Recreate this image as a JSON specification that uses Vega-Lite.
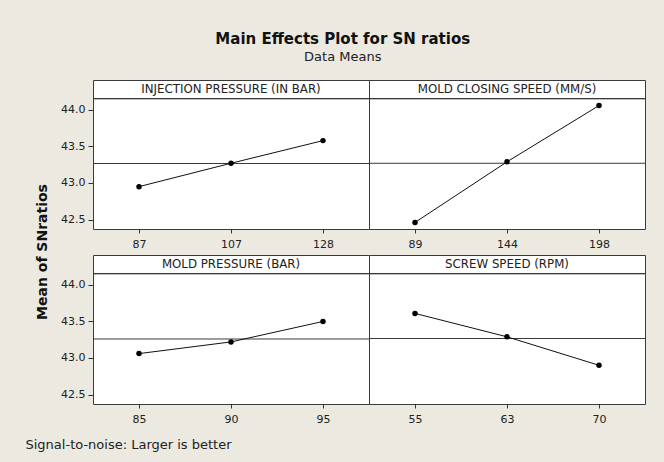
{
  "$schema": "https://vega.github.io/schema/vega-lite/v6.json",
  "background": "#ECE9E0",
  "padding": {"left": 25, "top": 31, "right": 26, "bottom": 12},
  "title": {
    "text": "Main Effects Plot for SN ratios",
    "subtitle": "Data Means",
    "anchor": "middle",
    "font": "DejaVu Sans",
    "fontSize": 15,
    "fontWeight": "bold",
    "color": "#111111",
    "subtitleFont": "DejaVu Sans",
    "subtitleFontSize": 13,
    "subtitleColor": "#222222",
    "subtitlePadding": 4,
    "offset": 16,
    "dx": 7
  },
  "data": {
    "values": [
      {"factor": "INJECTION PRESSURE (IN BAR)", "setting": 87, "sn": 42.95},
      {"factor": "INJECTION PRESSURE (IN BAR)", "setting": 107, "sn": 43.27},
      {"factor": "INJECTION PRESSURE (IN BAR)", "setting": 128, "sn": 43.58},
      {"factor": "MOLD CLOSING SPEED (MM/S)", "setting": 89, "sn": 42.46},
      {"factor": "MOLD CLOSING SPEED (MM/S)", "setting": 144, "sn": 43.29},
      {"factor": "MOLD CLOSING SPEED (MM/S)", "setting": 198, "sn": 44.06},
      {"factor": "MOLD PRESSURE (BAR)", "setting": 85, "sn": 43.06},
      {"factor": "MOLD PRESSURE (BAR)", "setting": 90, "sn": 43.22},
      {"factor": "MOLD PRESSURE (BAR)", "setting": 95, "sn": 43.5},
      {"factor": "SCREW SPEED (RPM)", "setting": 55, "sn": 43.61},
      {"factor": "SCREW SPEED (RPM)", "setting": 63, "sn": 43.29},
      {"factor": "SCREW SPEED (RPM)", "setting": 70, "sn": 42.9}
    ]
  },
  "vconcat": [
    {
      "title": {
        "text": "Signal-to-noise: Larger is better",
        "orient": "bottom",
        "anchor": "start",
        "font": "DejaVu Sans",
        "fontSize": 13,
        "fontWeight": "normal",
        "color": "#222222",
        "offset": 14,
        "dx": -10
      },
      "vconcat": [
        {
          "title": {
            "text": "Mean of SNratios",
            "orient": "left",
            "anchor": "middle",
            "font": "DejaVu Sans",
            "fontSize": 14,
            "fontWeight": "bold",
            "color": "#111111",
            "offset": 11
          },
          "facet": {
            "field": "factor",
            "type": "nominal",
            "sort": ["INJECTION PRESSURE (IN BAR)", "MOLD CLOSING SPEED (MM/S)", "MOLD PRESSURE (BAR)", "SCREW SPEED (RPM)"],
            "header": {"labels": false, "title": null, "labelFontSize": 0, "labelPadding": 0, "labelExpr": "''"}
          },
          "columns": 2,
          "spacing": {"row": 26, "column": 0},
          "bounds": "flush",
          "resolve": {"scale": {"x": "independent"}},
          "spec": {
            "width": 276,
            "height": 149,
            "layer": [
              {
                "mark": {"type": "rule", "color": "#3a3a3a", "strokeWidth": 1},
                "encoding": {
                  "y": {"datum": 44.155, "type": "quantitative", "scale": {"domain": [42.37, 44.41], "zero": false, "nice": false}}
                }
              },
              {
                "transform": [{"aggregate": [{"op": "count", "as": "n"}], "groupby": ["factor"]}],
                "mark": {"type": "text", "font": "DejaVu Sans", "fontSize": 11.8, "color": "#222222", "baseline": "middle"},
                "encoding": {
                  "y": {"datum": 44.285, "type": "quantitative"},
                  "text": {"field": "factor", "type": "nominal"}
                }
              },
              {
                "mark": {"type": "rule", "color": "#3a3a3a", "strokeWidth": 1},
                "encoding": {
                  "y": {"aggregate": "mean", "field": "sn", "type": "quantitative"}
                }
              },
              {
                "mark": {"type": "line", "color": "#111111", "strokeWidth": 1},
                "encoding": {
                  "x": {"field": "setting", "type": "ordinal", "scale": {"type": "point", "padding": 0.5},
                        "axis": {"title": null, "labelAngle": 0, "domain": false, "tickSize": 4, "labelPadding": 5}},
                  "y": {"field": "sn", "type": "quantitative",
                        "axis": {"title": null, "values": [42.5, 43, 43.5, 44], "format": ".1f", "grid": false, "domain": false, "tickSize": 5, "labelPadding": 3}}
                }
              },
              {
                "mark": {"type": "point", "filled": true, "color": "#000000", "size": 30, "opacity": 1},
                "encoding": {
                  "x": {"field": "setting", "type": "ordinal"},
                  "y": {"field": "sn", "type": "quantitative"}
                }
              }
            ]
          }
        }
      ]
    }
  ],
  "config": {
    "view": {"stroke": "#3a3a3a", "strokeWidth": 1, "fill": "#ffffff"},
    "header": {"labels": false, "title": null},
    "headerFacet": {"labels": false, "title": null},
    "headerColumn": {"labels": false, "title": null},
    "headerRow": {"labels": false, "title": null},
    "axis": {"labelFont": "DejaVu Sans", "labelFontSize": 11, "labelColor": "#222222", "tickColor": "#333333", "tickWidth": 1}
  }
}
